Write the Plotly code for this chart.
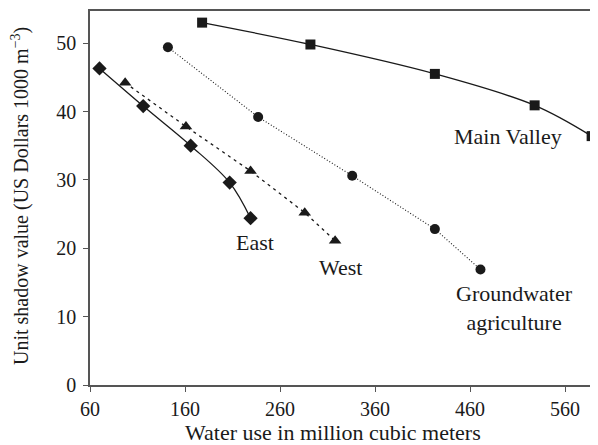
import plotly.graph_objects as go

# Data
mv_x = [178, 292, 423, 528, 588]
mv_y = [53.0, 49.8, 45.5, 40.9, 36.4]
gw_x = [142, 237, 336, 423, 471]
gw_y = [49.4, 39.2, 30.6, 22.8, 16.9]
east_x = [70, 116, 166, 207, 229]
east_y = [46.3, 40.8, 35.0, 29.6, 24.4]
west_x = [97, 161, 229, 286, 318]
west_y = [44.2, 37.8, 31.3, 25.2, 21.1]

labels = ["Main Valley", "Groundwater<br>agriculture", "East", "West"]
label_x = [500, 507, 234, 324]
label_y = [36.4, 11.2, 20.8, 17.2]

x_ticks = [60, 160, 260, 360, 460, 560]
y_ticks = [0, 10, 20, 30, 40, 50]

FONT = "Liberation Serif"
INK = "#1a1a1a"
AX = "#555555"

# page body has an 8px margin, so the figure is drawn 8px smaller
W, H = 590, 437
L, R, T, B = 82, 0, 3, 60
pw, ph = W - L - R, H - T - B

fig = go.Figure()
fig.add_trace(go.Scatter(x=mv_x, y=mv_y, mode="lines+markers", cliponaxis=False,
                         line=dict(color=INK, width=1.3, shape="spline"),
                         marker=dict(symbol="square", size=10, color=INK)))
fig.add_trace(go.Scatter(x=gw_x, y=gw_y, mode="lines+markers", cliponaxis=False,
                         line=dict(color=INK, width=1.1, dash="1px,2px"),
                         marker=dict(symbol="circle", size=10, color=INK)))
fig.add_trace(go.Scatter(x=east_x, y=east_y, mode="lines+markers", cliponaxis=False,
                         line=dict(color=INK, width=1.3, shape="spline"),
                         marker=dict(symbol="diamond", size=11, color=INK)))
fig.add_trace(go.Scatter(x=west_x, y=west_y, mode="lines+markers", cliponaxis=False,
                         line=dict(color=INK, width=1.3, dash="3px,4px"),
                         marker=dict(symbol="triangle-up", size=11, color=INK)))

for t, lx, ly in zip(labels, label_x, label_y):
    fig.add_annotation(x=lx, y=ly, text=t, showarrow=False,
                       font=dict(family=FONT, size=22, color=INK))

# axis titles (positions in figure pixels -> paper coords)
fig.add_annotation(x=(325 - L) / pw, y=(H - B - 424) / ph, xref="paper", yref="paper",
                   xanchor="center", yanchor="middle",
                   text="Water use in million cubic meters",
                   showarrow=False, font=dict(family=FONT, size=22, color=INK))
fig.add_annotation(x=(12 - L) / pw, y=(H - B - 188) / ph, xref="paper", yref="paper",
                   xanchor="center", yanchor="middle", textangle=-90,
                   text="Unit shadow value (US Dollars 1000 m<sup>\u22123</sup>)",
                   showarrow=False, font=dict(family=FONT, size=20, color=INK))

fig.update_layout(
    width=W, height=H,
    margin=dict(l=L, r=R, t=T, b=B, autoexpand=False),
    plot_bgcolor="white", paper_bgcolor="white",
    showlegend=False,
    font=dict(family=FONT, size=20, color=INK),
)
fig.update_xaxes(range=[60, 594.7], tickvals=x_ticks, ticks="outside", ticklen=5,
                 showline=True, linecolor=AX, linewidth=1.5, mirror=True,
                 showgrid=False, zeroline=False, tickcolor=AX, automargin=False,
                 tickfont=dict(family=FONT, size=20, color=INK))
fig.update_yaxes(range=[0, 54.7], tickvals=y_ticks, ticks="outside", ticklen=5,
                 showline=True, linecolor=AX, linewidth=1.5, ticklabelstandoff=3,
                 showgrid=False, zeroline=False, tickcolor=AX, automargin=False,
                 tickfont=dict(family=FONT, size=20, color=INK))

fig.write_html("out.html")
